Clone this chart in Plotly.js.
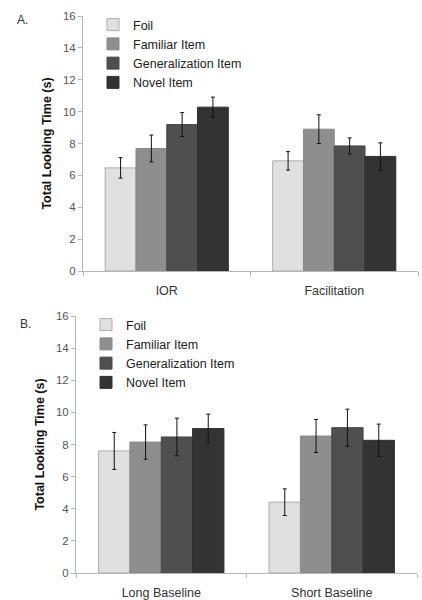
<!DOCTYPE html>
<html>
<head>
<meta charset="utf-8">
<script src="https://cdn.plot.ly/plotly-3.0.1.min.js"></script>
<style>html,body{margin:0;padding:0;background:#fff;}#chart{width:422px;height:600px;}</style>
</head>
<body>
<div id="chart"></div>
<script>
// Categories
const catsA = ["IOR", "Facilitation"];
const catsB = ["Long Baseline", "Short Baseline"];
const seriesNames = ["Foil", "Familiar Item", "Generalization Item", "Novel Item"];

// Panel A values (means) and error (±)
const foilA = [6.47, 6.91];
const familiarA = [7.69, 8.9];
const generalizationA = [9.19, 7.85];
const novelA = [10.28, 7.19];
const foilAErr = [0.64, 0.58];
const familiarAErr = [0.84, 0.9];
const generalizationAErr = [0.75, 0.5];
const novelAErr = [0.63, 0.85];

// Panel B values (means) and error (±)
const foilB = [7.6, 4.41];
const familiarB = [8.15, 8.53];
const generalizationB = [8.47, 9.05];
const novelB = [8.99, 8.26];
const foilBErr = [1.15, 0.83];
const familiarBErr = [1.07, 1.03];
const generalizationBErr = [1.17, 1.15];
const novelBErr = [0.9, 1.01];

const yTicks = [0, 2, 4, 6, 8, 10, 12, 14, 16];

const fills = ["#e0e0e0", "#8e8e8e", "#4f4f4f", "#333333"];
const outlines = ["#ababab", "#8a8a8a", "#4a4a4a", "#303030"];
const FONT = "Liberation Sans, Arial, sans-serif";

const valsA = [foilA, familiarA, generalizationA, novelA];
const errsA = [foilAErr, familiarAErr, generalizationAErr, novelAErr];
const valsB = [foilB, familiarB, generalizationB, novelB];
const errsB = [foilBErr, familiarBErr, generalizationBErr, novelBErr];

const traces = [];
function addPanel(cats, vals, errs, xa, ya, legendId) {
  for (let i = 0; i < seriesNames.length; i++) {
    traces.push({
      type: "bar",
      name: seriesNames[i],
      x: cats,
      y: vals[i],
      xaxis: xa,
      yaxis: ya,
      legend: legendId,
      marker: {color: fills[i], line: {color: outlines[i], width: 1}},
      error_y: {type: "data", array: errs[i], visible: true, color: "#111", thickness: 1, width: 2},
      hoverinfo: "skip"
    });
  }
}
addPanel(catsA, valsA, errsA, "x", "y", "legend");
addPanel(catsB, valsB, errsB, "x2", "y2", "legend2");

const W = 422, H = 600;
function yAxis(domain, xa) {
  return {
    domain: domain, anchor: xa, range: [0, 16], tickvals: yTicks, ticktext: yTicks.map(String),
    showgrid: false, zeroline: false, showline: true, linecolor: "#b5b5b5", linewidth: 1,
    ticks: "outside", ticklen: 4, tickcolor: "#b5b5b5",
    tickfont: {family: FONT, size: 11.5, color: "#555"},
    title: {text: "Total Looking Time (s)", font: {family: FONT, size: 12.5, color: "#111", weight: "bold"}, standoff: 8},
    automargin: false, fixedrange: true
  };
}
function xAxis(domain, ya) {
  return {
    domain: domain, anchor: ya, type: "category",
    showgrid: false, zeroline: false, showline: true, linecolor: "#b5b5b5", linewidth: 1,
    ticks: "outside", ticklen: 4, tickcolor: "#b5b5b5", tickson: "boundaries",
    ticklabelstandoff: 8,
    tickfont: {family: FONT, size: 12.5, color: "#333"},
    automargin: false, fixedrange: true
  };
}

const layout = {
  width: W, height: H,
  margin: {l: 0, r: 0, t: 0, b: 0},
  paper_bgcolor: "#fff", plot_bgcolor: "#fff",
  barmode: "group", bargap: 0.265, bargroupgap: 0,
  xaxis: xAxis([83 / W, 418 / W], "y"),
  yaxis: yAxis([1 - 271 / H, 1 - 16 / H], "x"),
  xaxis2: xAxis([76 / W, 417 / W], "y2"),
  yaxis2: yAxis([1 - 573 / H, 1 - 316 / H], "x2"),
  legend: {x: 93 / W, y: 1 - 10 / H, xanchor: "left", yanchor: "top", bgcolor: "rgba(0,0,0,0)",
    font: {family: FONT, size: 12.5, color: "#222"}, itemwidth: 30, traceorder: "normal"},
  legend2: {x: 86 / W, y: 1 - 310 / H, xanchor: "left", yanchor: "top", bgcolor: "rgba(0,0,0,0)",
    font: {family: FONT, size: 12.5, color: "#222"}, itemwidth: 30, traceorder: "normal"},
  annotations: [
    {text: "A.", xref: "paper", yref: "paper", x: 15 / W, y: 1 - 11 / H, xanchor: "left", yanchor: "top", showarrow: false, font: {family: FONT, size: 12, color: "#333"}},
    {text: "B.", xref: "paper", yref: "paper", x: 18 / W, y: 1 - 315 / H, xanchor: "left", yanchor: "top", showarrow: false, font: {family: FONT, size: 12, color: "#333"}}
  ],
  showlegend: true
};

Plotly.newPlot("chart", traces, layout, {displayModeBar: false, staticPlot: true});
</script>
</body>
</html>
